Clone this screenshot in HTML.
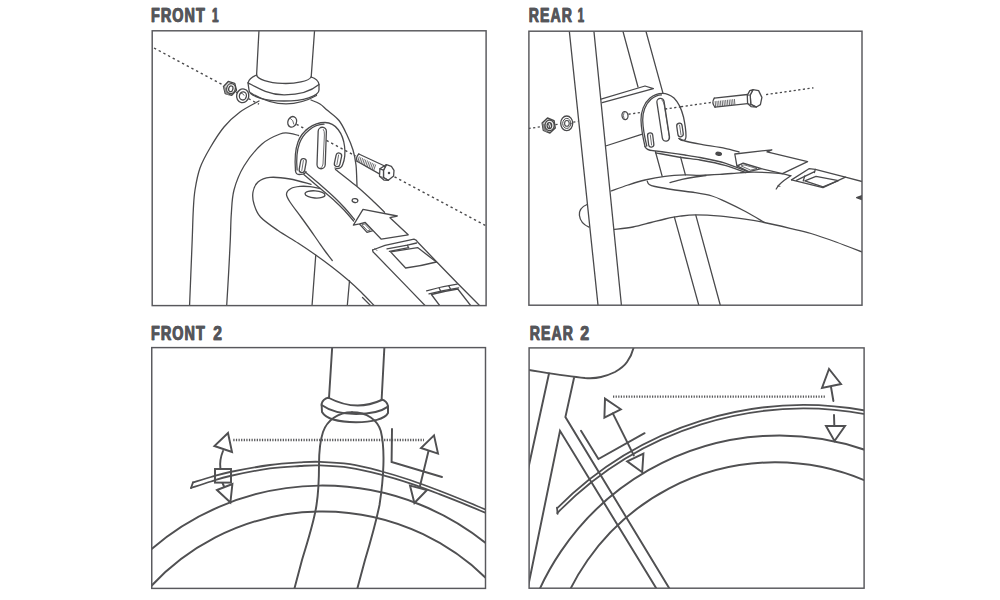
<!DOCTYPE html>
<html><head><meta charset="utf-8"><title>Fender install</title>
<style>
html,body{margin:0;padding:0;background:#fff;}
body{width:1000px;height:600px;overflow:hidden;font-family:"Liberation Sans",sans-serif;}
svg{display:block;position:absolute;left:0;top:0;}
.t{font-family:"Liberation Sans",sans-serif;font-weight:bold;font-size:20.6px;fill:#55565a;stroke:#55565a;stroke-width:0.45;paint-order:stroke;letter-spacing:1.5px;}
.b{fill:none;stroke:#58585c;stroke-width:1.45;}
.a path,.a ellipse,.a circle,.a rect,.a polygon,.a line{fill:none;stroke:#4a4a4c;stroke-width:1.3;stroke-linecap:round;stroke-linejoin:round;}
.a .w{fill:#fff;}
.a .k{fill:#4d4d4d;}
.a .d{stroke-dasharray:2.4 2.9;stroke-linecap:butt;stroke-width:1.4;}
.a .d2{stroke-dasharray:2.2 2.45;stroke-linecap:butt;stroke-width:1.35;}
.a .h{stroke-width:0.8;}
.c path,.c ellipse,.c circle,.c rect,.c polygon,.c line{fill:none;stroke:#505052;stroke-width:1.95;stroke-linecap:round;stroke-linejoin:miter;}
.c .w{fill:#fff;}
.c .dd{stroke-dasharray:1.25 1.35;stroke-linecap:butt;stroke-width:2.3;stroke:#58585a;}
.c .n{stroke-width:1.8;}
</style></head><body>
<svg width="1000" height="600" viewBox="0 0 1000 600">
<rect x="0" y="0" width="1000" height="600" fill="#fff"/>
<defs>
<clipPath id="c1"><rect x="152.20" y="30.80" width="333.90" height="274.80"/></clipPath>
<clipPath id="c2"><rect x="528.90" y="31.20" width="333.10" height="274.00"/></clipPath>
<clipPath id="c3"><rect x="151.75" y="347.60" width="333.75" height="240.80"/></clipPath>
<clipPath id="c4"><rect x="529.10" y="347.90" width="335.00" height="240.30"/></clipPath>
</defs>
<text class="t" transform="translate(150.7,22.2) scale(0.7,1)">FRONT</text><text class="t" transform="translate(151.3,22.2) scale(0.7,1)">FRONT</text><text class="t" transform="translate(211.8,22.2) scale(0.55,1)">1</text><text class="t" transform="translate(212.4,22.2) scale(0.55,1)">1</text><text class="t" transform="translate(528.5,22.2) scale(0.686,1)">REAR</text><text class="t" transform="translate(529.1,22.2) scale(0.686,1)">REAR</text><text class="t" transform="translate(577.4,22.2) scale(0.55,1)">1</text><text class="t" transform="translate(578,22.2) scale(0.55,1)">1</text><text class="t" transform="translate(150.7,339.6) scale(0.7,1)">FRONT</text><text class="t" transform="translate(151.3,339.6) scale(0.7,1)">FRONT</text><text class="t" transform="translate(212.9,339.6) scale(0.755,1)">2</text><text class="t" transform="translate(213.5,339.6) scale(0.755,1)">2</text><text class="t" transform="translate(529.5,339.6) scale(0.686,1)">REAR</text><text class="t" transform="translate(530.1,339.6) scale(0.686,1)">REAR</text><text class="t" transform="translate(580.1,339.6) scale(0.755,1)">2</text><text class="t" transform="translate(580.7,339.6) scale(0.755,1)">2</text>
<g class="a" clip-path="url(#c1)">
<path d="M154,48 L224.5,85.76" class="d"/>
<path d="M236.2,92.03 L237.6,92.78" class="d"/>
<path d="M248.5,98.61 L259,104.24" class="d"/>
<path d="M296.5,124.32 L307.5,130.21" class="d"/>
<path d="M326.5,140.39 L355.5,155.92" class="d"/>
<path d="M394.5,176.81 L487,226.35" class="d"/>
<path d="M259,30 L256.6,75"/>
<path d="M314.6,30 L311.2,77"/>
<path d="M256.6,75 A27.6,8.6 1 0 0 311.2,77"/>
<path d="M256.6,75 Q249,78 248,83 L249,90 A35,11 0 0 0 319,90 L319,84.4 Q318,79 311.2,77"/>
<path d="M248,82.8 C256,87 268,94.8 284,94.9 C300,95 312,90.5 319,84.6"/>
<path d="M251,93 Q284,113.5 316.5,95.5"/>
<path d="M259,101 C255.83,102.83 245.83,107.67 240,112 C234.17,116.33 229,121 224,127 C219,133 214,141.17 210,148 C206,154.83 202.5,161 200,168 C197.5,175 196.12,183 195,190 C193.88,197 193.77,201.67 193.3,210 C192.83,218.33 192.62,229.17 192.2,240 C191.78,250.83 191.25,263.83 190.8,275 C190.35,286.17 189.72,301.67 189.5,307"/>
<path d="M311,100 C312.5,100.67 317.33,102.33 320,104 C322.67,105.67 323.83,107.25 327,110 C330.17,112.75 335.67,116.33 339,120.5 C342.33,124.67 344.67,130.08 347,135 C349.33,139.92 351.5,145 353,150 C354.5,155 355.33,159 356,165 C356.67,171 356.83,182.5 357,186"/>
<path d="M298.5,135.5 C297.08,135.13 293.08,133.55 290,133.3 C286.92,133.05 284.67,132.22 280,134 C275.33,135.78 268,138.67 262,144 C256,149.33 248.67,158.33 244,166 C239.33,173.67 236.12,182 234,190 C231.88,198 231.92,205.67 231.3,214 C230.68,222.33 230.77,229.83 230.3,240 C229.83,250.17 229.12,263.83 228.5,275 C227.88,286.17 226.92,301.67 226.6,307"/>
<ellipse cx="292.2" cy="121.8" rx="4.3" ry="5.4" transform="rotate(22 292.2 121.8)"/>
<path d="M290.5,118.5 Q293.5,120 293.8,124" class="h"/>
<path d="M236.47,90.26 L231.73,95.35 L225.26,93.49 L223.53,86.54 L228.27,81.45 L234.74,83.31 Z" style="fill:#d8d8d8;stroke:#484848;stroke-width:1.4"/>
<path d="M223.4,86.8 L225.6,93.6 L229,95.4 L227.2,88.2 Z" style="fill:#8c8c8c;stroke:none"/>
<ellipse cx="231" cy="88.6" rx="4.3" ry="5" style="fill:#f0f0f0;stroke:#484848;stroke-width:1.2" transform="rotate(15 231 88.6)"/>
<ellipse cx="230.8" cy="88.8" rx="2.1" ry="2.9" style="fill:#fff;stroke:#444;stroke-width:1.2" transform="rotate(15 230.8 88.8)"/>
<ellipse class="w" cx="242.7" cy="95.8" rx="6.1" ry="6.9" transform="rotate(12 242.7 95.8)" style="stroke-width:1.35"/>
<ellipse cx="242.9" cy="95.9" rx="3.5" ry="4.1" transform="rotate(12 242.9 95.9)" style="stroke-width:1.3"/>
<path d="M241.3,93.2 Q243.2,93.2 244,95.2" class="h"/>
<path d="M311,184.3 C307.5,183.42 296.83,180.15 290,179 C283.17,177.85 275.33,176.9 270,177.4 C264.67,177.9 260.83,179.57 258,182 C255.17,184.43 253.67,188.33 253,192 C252.33,195.67 252.75,199.83 254,204 C255.25,208.17 256.5,212.58 260.5,217 C264.5,221.42 271.75,226.17 278,230.5 C284.25,234.83 291.83,239 298,243 C304.17,247 309.33,250.5 315,254.5 C320.67,258.5 326.5,262.75 332,267 C337.5,271.25 343.17,275.83 348,280 C352.83,284.17 356.58,287.67 361,292 C365.42,296.33 372.25,303.67 374.5,306"/>
<path d="M320,188.5 C318.33,188.18 313.33,186.95 310,186.6 C306.67,186.25 303.17,186.08 300,186.4 C296.83,186.72 293.25,187.23 291,188.5 C288.75,189.77 286.67,191.75 286.5,194 C286.33,196.25 287.58,198.17 290,202 C292.42,205.83 297.67,212.42 301,217 C304.33,221.58 307.17,225.5 310,229.5 C312.83,233.5 315.5,237.42 318,241 C320.5,244.58 322.62,247.75 325,251 C327.38,254.25 331.04,258.92 332.25,260.5"/>
<ellipse cx="315" cy="194.4" rx="10" ry="3.6" transform="rotate(4 315 194.4)"/>
<path d="M315.75,255.25 L312,306"/>
<path d="M349.5,280.75 L347.25,306"/>
<path d="M362.5,297.5 L371,306"/>
<path d="M295.5,171 C294.6,160 295,150 298,142 C302,131 313,122.5 325,122.5 C336,122.5 343,134 344.5,146 C345.5,153 344.6,160 342.5,165 C341.5,168 338.5,169.5 335,168 L336,170 L357,186.5 L384.6,212 L397,216 L363,209.5 L353.4,225 L335,199 L305.5,172.5 Q305,173.8 303,174.2 L299,174.5 Q296,174.5 295.5,171 Z" style="fill:#fff;stroke:none"/>
<path d="M295.5,171 C294.6,160 295,150 298,142 C302,131 313,122.5 325,122.5 C336,122.5 343,134 344.5,146 C345.5,153 344.6,160 342.5,165 C341.5,168 338.5,169.5 335,168"/>
<path d="M297.1,170 C296.2,160 296.6,151 299.5,143.2 C303,133.5 313,124.4 324,124.2"/>
<path d="M295.5,171 Q296,174.5 299,174.5 L303,174.2 Q305.2,173.6 306,171.6"/>
<rect x="317.6" y="127.25" width="8.2" height="41.5" rx="4.1" ry="4.1" transform="rotate(2 321.7 148)"/>
<path d="M323.4,129.5 Q324.6,131 324.4,135 L323,164 Q322.7,166.5 321,167.8" class="h"/>
<rect x="335.2" y="152.9" width="5.6" height="13.8" rx="2.8" ry="2.8" transform="rotate(12 338 159.8)"/>
<path d="M338.6,155 L336.9,164.5" class="h"/>
<rect x="299.9" y="158.6" width="5.6" height="14" rx="2.8" ry="2.8" transform="rotate(10 302.7 165.6)"/>
<path d="M303.4,160.5 L301.8,170.5" class="h"/>
<path d="M326.5,140.39 L344,149.76" class="d"/>
<path d="M305.5,172.3 C306.95,173.52 317.05,181.93 320,184.5 C322.95,187.07 332.5,195.62 335,198 C337.5,200.38 343.05,206.15 345,208.3 C346.95,210.45 353.55,218.38 354.5,219.5"/>
<path d="M303.8,174.6 C305.32,175.89 315.88,184.84 319,187.5 C322.12,190.16 332.45,198.9 335,201.2 C337.55,203.5 342.64,208.52 344.5,210.5 C346.36,212.48 352.69,219.95 353.6,221"/>
<path d="M335.5,169.5 C337.65,171.2 353.35,183.45 357,186.5 C360.65,189.55 369.24,197.43 372,200 C374.76,202.57 383.34,210.98 384.6,212.2"/>
<ellipse cx="355" cy="200.6" rx="2.9" ry="1.9" transform="rotate(8 355 200.6)"/>
<path d="M359.5,224 L365,222.4 L373,230.6 L367,232.4 Z" class="w"/>
<path d="M362.3,224.6 L364.6,224 L370.3,230 L368,230.8 Z" class="h"/>
<path d="M363,209.4 L397.3,216 L390,217.7 L408.2,234.8 L381.3,239.2 L365.2,222.4 L359.5,223.8 L353.4,225.1 Z" class="w"/>
<path d="M372.6,250 L385,245.4 L414,239.2 Q416.6,240 417.8,242.2 L436.8,262 L457.2,283 L480,306"/>
<path d="M372.6,250 Q372.4,252 374.4,253.2 L405.6,285.4 L425.5,306"/>
<path d="M374.6,248.2 L377,250.6" class="h"/>
<path d="M387,248.8 L407.4,245.2 L416.6,243"/>
<path d="M389.4,251.3 L408.6,247.7"/>
<path d="M407.4,245.2 L408.6,247.7"/>
<path d="M390.6,251.9 L417.6,247.6 L436.4,262 Q421,266 405.6,268 Z"/>
<path d="M426.6,290.8 Q442,286.5 457.2,284.2"/>
<path d="M429,293.9 Q444,290 458.6,287.8"/>
<path d="M439.2,288.2 L441,291.6"/>
<path d="M448.8,285.9 L450.6,289.2"/>
<path d="M440,306 L431.4,294.5 Q445,291 457.8,289 L471,306"/>
<path d="M358.8,154 L383.6,165.5"/>
<path d="M357,161.3 L379.4,173.9"/>
<path d="M358.8,154 Q355.6,157 357,161.3"/>
<path d="M359.19,156.9 L357.9,161.8" class="h"/>
<path d="M360.83,157.7 L359.47,162.68" class="h"/>
<path d="M362.47,158.5 L361.04,163.56" class="h"/>
<path d="M364.11,159.3 L362.61,164.44" class="h"/>
<path d="M365.74,160.1 L364.18,165.32" class="h"/>
<path d="M367.38,160.9 L365.75,166.2" class="h"/>
<path d="M369.02,161.69 L367.32,167.08" class="h"/>
<path d="M370.66,162.49 L368.89,167.96" class="h"/>
<path d="M372.3,163.29 L370.46,168.84" class="h"/>
<path d="M373.93,164.09 L372.03,169.72" class="h"/>
<path d="M375.57,164.89 L373.6,170.6" class="h"/>
<path d="M386.4,164.6 L391.4,166.3 L394,170.4 L393.6,176 L388.3,180.3 L383.5,177.6 L383.5,170.2 Z" class="w"/>
<path d="M386.4,164.6 L379.9,168.8 L379.5,176.2 L384.2,180.2 L388.3,180.3 L383.5,177.6 L383.5,170.2 Z" class="w"/>
<path d="M379.9,168.8 L383.5,170.2"/>
<path d="M379.5,176.2 L383.5,177.6" class="h"/>
<circle cx="389" cy="173" r="0.6" class="k"/>
</g>
<g class="a" clip-path="url(#c2)">
<path d="M528.5,128.51 L542,126.59" class="d2"/>
<path d="M555.4,124.67 L559.8,124.04" class="d2"/>
<path d="M573.2,122.13 L578.4,121.39" class="d2"/>
<path d="M628.5,114.23 L641,112.45" class="d2"/>
<path d="M681,106.74 L712.5,102.24" class="d2"/>
<path d="M766,94.6 L813.5,87.82" class="d2"/>
<path d="M622.6,30 L638,87"/>
<path d="M645.6,30 L663,93.4"/>
<path d="M655.4,151.5 L662.2,176.3"/>
<path d="M680.6,157.2 L685.4,174.8"/>
<path d="M674.4,217.1 L699,306"/>
<path d="M695.8,215.1 L720.5,306"/>
<path d="M611,191 C613.83,190 622.33,186.83 628,185 C633.67,183.17 638.83,181.45 645,180 C651.17,178.55 658.33,177.15 665,176.3 C671.67,175.45 679.17,175.07 685,174.9 C690.83,174.73 694.17,175.38 700,175.3 C705.83,175.22 713.33,174.82 720,174.4 C726.67,173.98 734.5,173.17 740,172.8 C745.5,172.43 748.33,172.23 753,172.2 C757.67,172.17 763.33,172.37 768,172.6 C772.67,172.83 777.2,173.08 781,173.6 C784.8,174.12 789.17,175.35 790.8,175.7"/>
<path d="M790.8,175.7 C789.67,176.5 785.97,178.95 784,180.5 C782.03,182.05 780.3,183.58 779,185 C777.7,186.42 776.67,188.33 776.2,189"/>
<path d="M777.5,186 L780,186.4" class="h"/>
<path d="M647.3,181.3 C647.58,181.8 647.72,183.43 649,184.3 C650.28,185.17 650.67,185.55 655,186.5 C659.33,187.45 668.33,188.98 675,190 C681.67,191.02 688.83,191.6 695,192.6 C701.17,193.6 707,194.53 712,196 C717,197.47 719.5,198.85 725,201.4 C730.5,203.95 738.47,207.82 745,211.3 C751.53,214.78 761,220.47 764.2,222.3"/>
<path d="M670,182.6 C672,182.07 677.83,180.33 682,179.4 C686.17,178.47 691,177.65 695,177 C699,176.35 704.17,175.75 706,175.5"/>
<path d="M613.2,229.7 C616.5,229.25 626.7,228.2 633,227 C639.3,225.8 645.67,223.83 651,222.5 C656.33,221.17 660.17,220.05 665,219 C669.83,217.95 674.87,216.88 680,216.2 C685.13,215.52 688.97,214.9 695.8,214.9 C702.63,214.9 712.8,215.48 721,216.2 C729.2,216.92 737.8,218.15 745,219.2 C752.2,220.25 756.7,220.98 764.2,222.5 C771.7,224.02 782.2,226.47 790,228.3 C797.8,230.13 803.33,231.22 811,233.5 C818.67,235.78 827.5,238.92 836,242 C844.5,245.08 857.67,250.33 862,252"/>
<path d="M587.1,204.5 C581,207 579,211 579.4,215.3 C580,221 584,225 589,227.2"/>
<path d="M569.2,30 L598.1,306 L621.5,306 L593.8,30 Z" style="fill:#fff;stroke:none"/>
<path d="M569.2,30 L598.1,306"/>
<path d="M593.8,30 L621.5,306"/>
<path d="M601,99.2 L645,86 L653.4,88.6 L602.2,102.6"/>
<path d="M605.6,146 L641.5,134.3"/>
<ellipse cx="625" cy="115.6" rx="3" ry="4" transform="rotate(-8 625 115.6)"/>
<path d="M624,112.6 Q622.6,115.5 624,118.6" class="h"/>
<path d="M555.28,128.1 L549.92,132.98 L543.34,130.39 L542.12,122.9 L547.48,118.02 L554.06,120.61 Z" style="fill:#d0d0d0;stroke:#484848;stroke-width:1.4"/>
<path d="M542.2,123 L543.4,130 L547,132.6 L546.2,125 Z" style="fill:#848484;stroke:none"/>
<ellipse cx="549.6" cy="125.4" rx="4.6" ry="5.3" style="fill:#eeeeee;stroke:#484848;stroke-width:1.2"/>
<ellipse cx="549.4" cy="125.6" rx="2.3" ry="3" style="fill:#fff;stroke:#444;stroke-width:1.2"/>
<path d="M548.2,123.6 L549.6,127.8 M550.6,123.4 L549.2,127.6" class="h"/>
<ellipse class="w" cx="566.7" cy="123.3" rx="6" ry="7.3" style="stroke-width:1.35"/>
<ellipse cx="566.8" cy="123.4" rx="4.1" ry="5" style="stroke-width:1"/>
<ellipse cx="566.9" cy="123.4" rx="2.3" ry="2.9" style="stroke-width:1.1"/>
<path d="M645,146.5 C643,138 641.3,130 641,120 C640.8,112 644,103 650,98 C654,94.6 658,93.3 662.5,93.3 C668,93.3 671,95.5 674,98 C679,103 682,111 683.5,117 C685,124 686,131 686,136 C686,139 685,140.6 683,140.6 C681,140.6 680,139.6 679,138.5 L685,141 L700,144.2 L725,148.4 L739,152 L735,154 L737,166 L747.4,171.5 L725,163.1 L700,157.5 L685,155 L653,150.6 Q647,150.5 645,146.5 Z" style="fill:#fff;stroke:none"/>
<path d="M645,146.5 C643,138 641.3,130 641,120 C640.8,112 644,103 650,98 C654,94.6 658,93.3 662.5,93.3 C668,93.3 671,95.5 674,98 C679,103 682,111 683.5,117 C685,124 686,131 686,136 C686,139 685,140.6 683,140.6 C681,140.6 680,139.6 679,138.5"/>
<path d="M646.8,146 C644.8,138 643,130 642.7,120 C642.5,112.5 645.5,104 651,99.3 C654.5,96.2 658,95 661.5,94.9"/>
<path d="M645,146.5 Q646.3,150.3 653,150.6"/>
<rect x="659.6" y="98.1" width="7.2" height="43.2" rx="3.6" ry="3.6" transform="rotate(-8.7 663.2 119.7)"/>
<path d="M662,100 Q663.6,101.6 664.2,105 L669.2,136.5 Q669.4,139.6 667.8,140.8" class="h"/>
<rect x="677.3" y="123.2" width="5.4" height="13.6" rx="2.7" ry="2.7" transform="rotate(-8 680 130)"/>
<path d="M679.6,125.2 L681,134.8" class="h"/>
<rect x="648.1" y="132.9" width="5.2" height="14.2" rx="2.6" ry="2.6" transform="rotate(-7 650.7 140)"/>
<path d="M650.3,135 L651.6,145" class="h"/>
<path d="M665,109.02 L681,106.74" class="d2"/>
<path d="M679,138.5 C679.7,138.79 682.55,140.34 685,141 C687.45,141.66 695.33,143.34 700,144.2 C704.67,145.06 720.45,147.49 725,148.4 C729.55,149.31 737.37,151.58 739,152"/>
<path d="M653,150.6 C654.98,150.86 666.27,152.29 670,152.8 C673.73,153.31 681.5,154.45 685,155 C688.5,155.55 695.33,156.56 700,157.5 C704.67,158.44 719.47,161.47 725,163.1 C730.53,164.73 744.79,170.52 747.4,171.5"/>
<path d="M655.5,152.8 C657.19,153.12 666.56,154.89 670,155.5 C673.44,156.11 681.5,157.47 685,158 C688.5,158.53 695.33,159.15 700,160 C704.67,160.85 719.66,163.83 725,165.3 C730.34,166.77 743.37,171.75 745.8,172.6"/>
<ellipse class="k" cx="718.7" cy="153.8" rx="2.8" ry="1.5" transform="rotate(8 718.7 153.8)"/>
<path d="M736.9,165.9 L743.2,163.1 L761.4,168.7 L748.8,171.6 Z" class="w"/>
<path d="M741.5,165.8 L744,164.8 L757,168.6 L751,170 Z" class="h"/>
<path d="M734.8,154 L771.9,149.8 L767,151.9 L807.6,161.7 L782.4,173.6 L761.4,168.7 L743.2,163.1 L736.9,165.9 Z" class="w"/>
<path d="M791.5,179.9 L809,168.7 L815.3,169.4 L845.4,177.1 L863,181.8"/>
<path d="M791.5,179.9 L823,187.6 L845.4,177.1"/>
<path d="M796.4,180.4 L814.6,171.7"/>
<path d="M815.3,169.4 L814.4,172.6"/>
<path d="M804.8,180.8 L816,176.4 L838.4,180.6 L823,186.9 Z"/>
<path d="M803.2,181 L804.8,175.9"/>
<path d="M856.6,197.7 L862,195.6 L862,199.6 Z" class="k"/>
<path d="M714.3,98.1 L747.5,94.5"/>
<path d="M715,107.2 L747.5,103.6"/>
<path d="M714.3,98.1 Q711.2,102.6 715,107.2"/>
<path d="M715.2,101.5 L715.6,106.5" class="h"/>
<path d="M716.95,101.31 L717.35,106.31" class="h"/>
<path d="M718.7,101.12 L719.1,106.12" class="h"/>
<path d="M720.45,100.94 L720.85,105.94" class="h"/>
<path d="M722.2,100.75 L722.6,105.75" class="h"/>
<path d="M723.95,100.56 L724.35,105.56" class="h"/>
<path d="M725.7,100.37 L726.1,105.37" class="h"/>
<path d="M727.45,100.18 L727.85,105.18" class="h"/>
<path d="M729.2,99.99 L729.6,104.99" class="h"/>
<path d="M730.95,99.8 L731.35,104.8" class="h"/>
<path d="M732.7,99.61 L733.1,104.61" class="h"/>
<path d="M734.45,99.42 L734.85,104.42" class="h"/>
<path d="M753,89.6 L758.6,90.6 L761.9,97.4 L760.4,104.6 L756.4,107 L750.8,104.4 L750.2,95 Z" class="w"/>
<path d="M753,89.6 L749.8,90.6 L747.3,95.4 L747.6,103.6 L751,106.6 L756.4,107 L750.8,104.4 L750.2,95 Z" class="w"/>
<path d="M747.3,95.4 L750.2,95 M747.6,103.6 L750.8,104.4" class="h"/>
</g>
<g class="c" clip-path="url(#c3)">
<path d="M140,559.6 A261.3,261.3 0 0 1 500,555.42"/>
<path d="M140,599.04 A234,234 0 0 1 500,593.02"/>
<path d="M193,482.4 C196,481.5 204.83,478.73 211,477 C217.17,475.27 220.17,474 230,472 C239.83,470 258.33,466.6 270,465 C281.67,463.4 291.67,462.93 300,462.4 C308.33,461.87 311.67,461.5 320,461.8 C328.33,462.1 340,462.67 350,464.2 C360,465.73 370,468.37 380,471 C390,473.63 400,476.67 410,480 C420,483.33 430,487.17 440,491 C450,494.83 461.67,499.58 470,503 C478.33,506.42 486.67,510.08 490,511.5" class="n"/>
<path d="M191,488 C194.33,486.92 204.5,483.5 211,481.5 C217.5,479.5 220.17,478.18 230,476 C239.83,473.82 258.33,470.07 270,468.4 C281.67,466.73 291.67,466.5 300,466 C308.33,465.5 311.67,465.1 320,465.4 C328.33,465.7 340,466.3 350,467.8 C360,469.3 370,471.8 380,474.4 C390,477 400,480.07 410,483.4 C420,486.73 430,490.58 440,494.4 C450,498.22 461.67,502.9 470,506.3 C478.33,509.7 486.67,513.38 490,514.8" class="n"/>
<path d="M193,482.4 L191,488" class="n"/>
<path d="M332.2,347 L329,398"/>
<path d="M384.4,347 L381.6,400"/>
<path d="M329,398 Q356,412 381.6,400"/>
<path d="M329,397.5 Q322.5,399 321.6,404 L322,412 C326,419 340,422.3 356,422.3 C372,422.3 385,419 388,413 L388,406 Q387,401 381.6,399.5"/>
<path d="M321.6,405 C330,411 342,414 356,414 C370,414 382,411 388,406.6"/>
<path d="M352,412.2 C338,412.2 327,420.5 323,432 C320,441 319,452 319,465 C319,480 318.5,492 316.5,505 C314,522 308,540 302,560 L294.3,589"/>
<path d="M352,412.2 C367,412.2 377.5,420 380.8,431 C383,440 383.8,452 383.4,465 C383,480 381.5,492 379.5,505 C376,522 371,540 365,560 L357.2,589"/>
<path d="M233.3,440 L424,440" class="dd"/>
<path d="M228,433 L214.4,446 L232,452 Z" class="w"/>
<path d="M223,451 Q219.3,460 220.4,468.5"/>
<rect x="215" y="469" width="16" height="13.6"/>
<path d="M222.5,483 L224.5,487.5"/>
<path d="M217,490 L232.4,484 L230.4,502.4 Z" class="w"/>
<path d="M392,429 L391.6,462 L442,477"/>
<path d="M434,435.4 L421,448 L438,453.6 Z" class="w"/>
<path d="M428.5,451 L420,486"/>
<path d="M410,485.6 L427,490 L414.4,503 Z" class="w"/>
</g>
<g class="c" clip-path="url(#c4)">
<path d="M520,651.59 A263.5,263.5 0 0 1 870,451.64"/>
<path d="M550,649.94 A229.2,229.2 0 0 1 870,482.73"/>
<path d="M557.3,508.03 A347.1,347.1 0 0 1 870,411.43" class="n"/>
<path d="M557.3,513.03 A343.6,343.6 0 0 1 870,415" class="n"/>
<path d="M557,507.53 L557.6,513.83" class="n"/>
<path d="M526,369.6 C545,372.5 565,376 585,378 C592,378.5 597,378 601,377 C607,375.5 611,374 615,372 C621,368.5 625,365 627,362 C630,358 632.5,353 634,346"/>
<path d="M549,373.5 L527.5,472"/>
<path d="M574,378 L565.4,417 L670,589.5"/>
<path d="M527.5,589.5 L560,430.8 L657,589.5"/>
<path d="M581,430.8 L598.4,459 L644.6,433.2"/>
<path d="M613,396.6 L825,396.6" class="dd"/>
<path d="M605,398.6 L604.4,417.6 L620.8,409.3 Z" class="w"/>
<path d="M612.8,413.4 L633.8,455.4"/>
<path d="M627.2,461.4 L643.4,453.6 L642.2,472.2 Z" class="w"/>
<path d="M829,369 L822,388 L841,384 Z" class="w"/>
<path d="M831,387 L833.4,401"/>
<path d="M834,415 L834.3,425"/>
<path d="M826,426 L845,426 L834.5,441 Z" class="w"/>
</g>
<rect class="b" x="152.20" y="30.80" width="333.90" height="274.80"/>
<rect class="b" x="528.90" y="31.20" width="333.10" height="274.00"/>
<rect class="b" x="151.75" y="347.60" width="333.75" height="240.80"/>
<rect class="b" x="529.10" y="347.90" width="335.00" height="240.30"/>
</svg>
</body></html>
